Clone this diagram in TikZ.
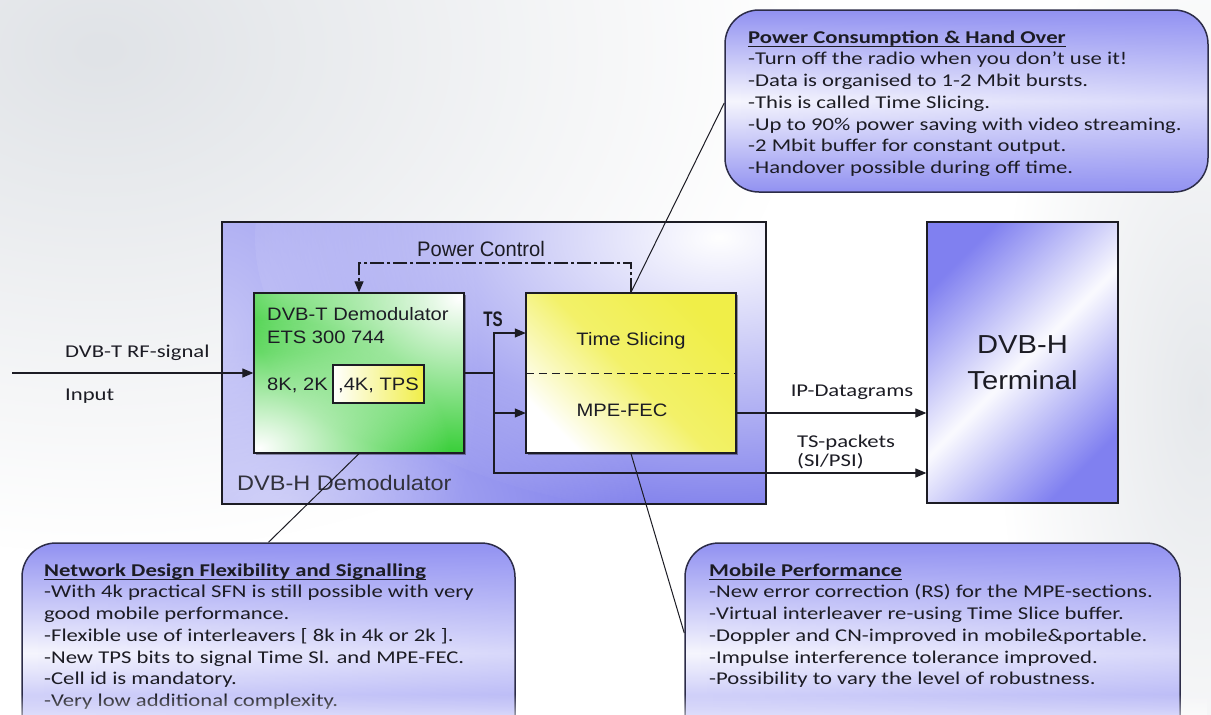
\documentclass[tikz,border=0pt]{standalone}
\usepackage{fontspec}
\setmainfont{Liberation Sans}
\newfontfamily\calfont[FakeStretch=1.26]{Carlito}
\newfontfamily\arfont[FakeStretch=1.12]{Liberation Sans}
\newfontfamily\pcfont[FakeStretch=0.96]{Liberation Sans}
\newfontfamily\tsfont[FakeStretch=0.72]{Liberation Sans}
\usetikzlibrary{arrows.meta,fadings,shadows,calc}

\tikzfading[name=softspot, inner color=transparent!0, outer color=transparent!100]

\definecolor{demblue}{RGB}{128,128,236}
\definecolor{termblue}{RGB}{128,128,240}
\definecolor{callblue}{RGB}{146,146,242}
\definecolor{dgreen}{RGB}{50,205,50}
\definecolor{dyellow}{RGB}{240,238,72}
\definecolor{inkc}{RGB}{28,28,36}
\definecolor{calline}{RGB}{44,44,72}
\definecolor{bggray}{RGB}{224,227,231}
\definecolor{labgray}{RGB}{50,50,60}

% bold heading with a heavy underline
\newcommand\calloutheading[1]{\setbox0\hbox{\bfseries #1}\rlap{\rule[-3.6pt]{\wd0}{1.3pt}}\box0}

\tikzset{
  conn/.style={draw=inkc, line width=1.2pt},
  arr/.style={conn, -{Triangle[length=11pt,width=9pt]}},
  blockbox/.style={draw=inkc, line width=1.3pt, rectangle, inner sep=0pt},
  boxshadow/.style={drop shadow={shadow xshift=2pt, shadow yshift=-2pt, opacity=0.35, fill=black}},
  callout/.style={draw=calline, line width=1.5pt, rounded corners=34pt, rectangle, inner sep=0pt,
     top color=callblue, bottom color=callblue, middle color=white!92!callblue,
     path picture={\fill[callblue, opacity=0.3, path fading=west]
        (path picture bounding box.south west) rectangle (path picture bounding box.north east);}},
  calltext/.style={anchor=north west, inner sep=0pt, align=left, text=inkc,
     font=\calfont\fontsize{18}{21.7}\selectfont},
  caltag/.style={inner sep=0pt, text=inkc, font=\calfont\fontsize{18}{21.7}\selectfont},
  diag/.style={inner sep=0pt, text=inkc, font=\arfont\fontsize{18}{21}\selectfont},
  leader/.style={draw=inkc, line width=1pt},
  halfbox/.style={minimum width=210pt, minimum height=80pt, inner sep=0pt},
}

\begin{document}
\begin{tikzpicture}[x=1pt,y=-1pt]
\useasboundingbox (0,0) rectangle (1211,715);
\clip (0,0) rectangle (1211,715);

% soft slide background
\fill[white] (0,0) rectangle (1211,715);
\fill[bggray, path fading=softspot] (-600,-450) rectangle (800,550);
\fill[bggray, opacity=0.8, path fading=softspot] (1000,-100) rectangle (1400,900);

% callout boxes
\node[callout, minimum width=483pt, minimum height=182pt] (co1) at (966.5,101) {};
\node[callout, minimum width=493pt, minimum height=220pt] (co2) at (268.5,653) {};
\node[callout, minimum width=495pt, minimum height=220pt] (co3) at (932.5,653) {};

% DVB-H demodulator frame
\node[blockbox, minimum width=544pt, minimum height=282pt, fill=demblue,
  path picture={
    \fill[white, path fading=softspot] ($(path picture bounding box.north east)+(-30,15)$) ellipse [x radius=480, y radius=280];
    \fill[white, opacity=0.55, path fading=softspot] ($(path picture bounding box.west)+(0,-20)$) ellipse [x radius=260, y radius=420];
    \fill[white, opacity=0.45, path fading=softspot] ($(path picture bounding box.south west)+(60,0)$) ellipse [x radius=360, y radius=160];
  }] (dem) at (494,363) {};

% terminal
\node[blockbox, minimum width=191pt, minimum height=281pt, top color=termblue,
  bottom color=termblue, middle color=white!96!termblue, shading angle=45,
  align=center, text=inkc, font=\arfont\fontsize{26}{35.5}\selectfont] (term) at (1022.5,362.5) {DVB-H\\Terminal};

% DVB-T demodulator block
\node[blockbox, boxshadow, minimum width=210pt, minimum height=160pt, fill=dgreen,
  path picture={
    \fill[white, path fading=softspot] ($(path picture bounding box.north east)+(-5,5)$) ellipse [x radius=210, y radius=160];
    \fill[white, path fading=softspot] ($(path picture bounding box.south west)+(5,-5)$) ellipse [x radius=190, y radius=130];
    \fill[white, opacity=0.3, path fading=softspot] ($(path picture bounding box.north west)+(30,0)$) ellipse [x radius=170, y radius=60];
  }] (green) at (359,373) {};
\node[diag, anchor=base west] (dtd) at (267,320) {DVB-T Demodulator};
\node[diag, anchor=base west] (ets) at (267,343) {ETS 300 744};
\node[diag, anchor=base west] (k82) at (267,390) {8K, 2K};
\node[blockbox, line width=1.1pt, minimum width=91pt, minimum height=38pt, left color=white,
  right color=dyellow, text=inkc, font=\arfont\fontsize{18}{21}\selectfont,
  text height=13pt, text depth=0pt] (k4) at (378.5,384) {,4K, TPS};

% time slicing / MPE-FEC block
\node[blockbox, boxshadow, minimum width=210pt, minimum height=160pt, top color=dyellow,
  bottom color=white, middle color=dyellow!82!white, shading angle=-45] (yellow) at (631,373) {};
\node[halfbox] (ytop) at (631,333) {};
\node[halfbox] (ybot) at (631,413) {};
\draw[inkc, line width=1.3pt, dash pattern=on 8pt off 5pt] (ytop.south west) -- (ytop.south east);
\node[diag, anchor=base] (tsl) at (631,345) {Time Slicing};
\node[diag, anchor=base] (mpe) at (622,416.5) {MPE-FEC};

% labels
\node[inner sep=0pt, anchor=base, text=inkc, font=\pcfont\fontsize{21}{24}\selectfont] (pcl) at (481,256) {Power Control};
\node[inner sep=0pt, anchor=base, text=inkc, font=\tsfont\bfseries\fontsize{21}{24}\selectfont] (tsl2) at (493,326) {TS};
\node[inner sep=0pt, anchor=base west, text=labgray, font=\arfont\fontsize{21}{24}\selectfont] (demlab) at (237,490) {DVB-H Demodulator};
\node[caltag, anchor=base west] (rf) at (65,357) {DVB-T RF-signal};
\node[caltag, anchor=base west] (inl) at (65,400) {Input};
\node[caltag, anchor=base] (ipd) at (852,396) {IP-Datagrams};
\node[caltag, anchor=base west] (tsp1) at (797,447) {TS-packets};
\node[caltag, anchor=base west] (tsp2) at (797,466) {(SI/PSI)};

% signal connectors
\coordinate (inp) at (12,373);
\coordinate (j) at (494,373);
\coordinate (pcy) at (481,263);
\coordinate (tsend) at (term.west |- 0,473);
\draw[arr] (inp) -- (green.west);
\draw[conn] (green.east) -- (j);
\draw[arr] (j) |- (ytop.west);
\draw[arr] (j) |- (ybot.west);
\draw[arr] (j) |- (tsend);
\draw[arr] (ybot.east) -- (ybot.east -| term.west);
\draw[arr, dash pattern=on 14pt off 3pt on 3pt off 3pt] (yellow.north) |- (pcy) -| (green.north);

% callout leaders
\draw[leader] (yellow.north) -- (co1.west |- 0,103);
\draw[leader] (green.south) -- (co2.north);
\draw[leader] (yellow.south) -- (co3.west |- 0,633);

% callout texts
\node[calltext] (t1) at (748,28) {\rule{0pt}{15pt}\calloutheading{Power Consumption \& Hand Over}\\
-Turn off the radio when you don’t use it!\\
-Data is organised to 1-2 Mbit bursts.\\
-This is called Time Slicing.\\
-Up to 90\% power saving with video streaming.\\
-2 Mbit buffer for constant output.\\
-Handover possible during off time.};
\node[calltext] (t2) at (44,561) {\rule{0pt}{15pt}\calloutheading{Network Design Flexibility and Signalling}\\
-With 4k practical SFN is still possible with very\\
good mobile performance.\\
-Flexible use of interleavers [ 8k in 4k or 2k ].\\
-New TPS bits to signal Time Sl. and MPE-FEC.\\
-Cell id is mandatory.\\
-Very low additional complexity.};
\node[calltext] (t3) at (709,561) {\rule{0pt}{15pt}\calloutheading{Mobile Performance}\\
-New error correction (RS) for the MPE-sections.\\
-Virtual interleaver re-using Time Slice buffer.\\
-Doppler and CN-improved in mobile\&portable.\\
-Impulse interference tolerance improved.\\
-Possibility to vary the level of robustness.};

% soft fade along the lower edge
\fill[white, opacity=0.5, path fading=north] (0,694) rectangle (1211,715);
\end{tikzpicture}
\end{document}
